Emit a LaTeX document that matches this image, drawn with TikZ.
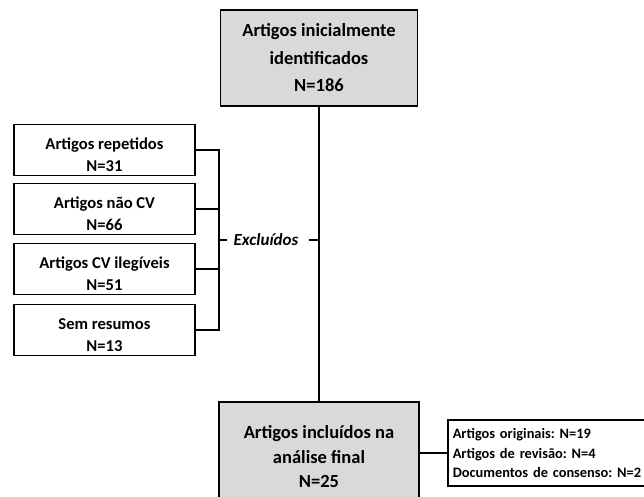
\documentclass[tikz,border=0pt]{standalone}
\usepackage{fontspec}
\setmainfont{Carlito}
\frenchspacing
\newcommand{\topstrut}{\rule{0pt}{21pt}}
\begin{document}
\begin{tikzpicture}[x=1pt,y=-1pt,
  ln/.style={line width=1.5pt},
  bigbox/.style={draw,ln,fill=black!15,minimum width=197pt,align=center,font=\fontsize{18.5}{27.5}\selectfont\bfseries},
  smallbox/.style={draw,ln,fill=white,minimum width=181pt,minimum height=51pt,inner ysep=0pt,align=center,font=\fontsize{16.6}{22}\selectfont\bfseries},
  listbox/.style={draw,ln,fill=white,minimum width=230pt,minimum height=66pt,align=left,anchor=west,inner sep=5pt,font=\fontsize{14.4}{19.5}\selectfont\bfseries,text width=220pt}
]
\useasboundingbox (0,0) rectangle (644,497);
\begin{scope}
\clip (0,0) rectangle (644,497);
\node[bigbox,minimum height=96pt] (top) at (319,58) {Artigos inicialmente\\identificados\\N=186};
\node[bigbox,minimum height=110pt,minimum width=200pt,font=\fontsize{18.5}{24.5}\selectfont\bfseries] (bot) at (319,457) {Artigos incluídos na\\análise final\\N=25};
\node[listbox] (list) at (447,453) {Artigos originais: N=19\\Artigos de revisão: N=4\\Documentos de consenso: N=2};
\end{scope}
\node[smallbox] (b1) at (104.5,150) {\topstrut Artigos repetidos\\N=31};
\node[smallbox] (b2) at (104.5,209) {\topstrut Artigos não CV\\N=66};
\node[smallbox] (b3) at (104.5,269) {\topstrut Artigos CV ilegíveis\\N=51};
\node[smallbox] (b4) at (104.5,330) {\topstrut Sem resumos\\N=13};
\coordinate (brk) at (219,240);
\coordinate (mainj) at (319,240);
\node[font=\fontsize{17}{20}\selectfont\bfseries\itshape,inner sep=0pt] (exc) at (266,240) {Excluídos};
\draw[ln] (top.south) -- (bot.north);
\draw[ln] (list.west -| bot.east) -- (list.west);
\draw[ln] (b1.east) -- (b1.east -| brk) -- (b4.east -| brk) -- (b4.east);
\draw[ln] (b2.east) -- (b2.east -| brk);
\draw[ln] (b3.east) -- (b3.east -| brk);
\draw[ln] (brk) -- ([xshift=-6pt]exc.west);
\draw[ln] ([xshift=10pt]exc.east) -- (mainj);
\end{tikzpicture}
\end{document}
